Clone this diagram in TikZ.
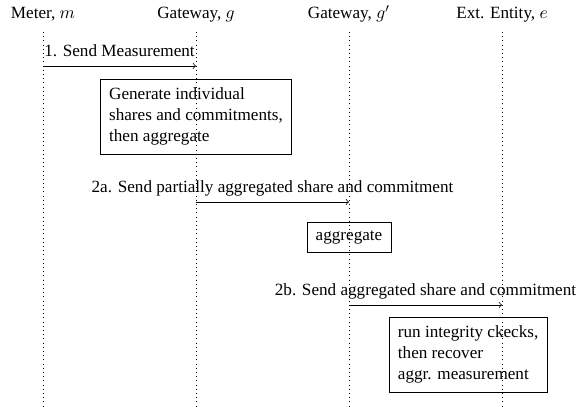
\documentclass[tikz,border=0pt]{standalone}
\usepackage{fontspec}
\setmainfont{Liberation Serif}
\usepackage{tikz}
\usetikzlibrary{positioning, calc}
\tikzstyle{actor} = [anchor=base, inner sep=0pt]
\tikzstyle{lifeline} = [dotted]
\tikzstyle{action} = [rectangle, draw=black, align=left, inner xsep=4.9pt, inner ysep=4.9pt]
\tikzstyle{msg} = [->]
\tikzstyle{msglabel} = [midway, anchor=base, yshift=5.7pt, inner sep=0pt]

\begin{document}
\begin{tikzpicture}[x=0.0201cm, y=-0.0201cm, font=\fontsize{9.8}{12}\selectfont]
    \useasboundingbox (0,0) rectangle (576,407);

    % participants
    \node (m) [actor] at (43,19) {Meter, $m$};
    \node (g) [actor] at (196,19) {Gateway, $g$};
    \node (gp) [actor] at (349,19) {Gateway, $g'$};
    \node (e) [actor] at (502,19) {Ext. Entity, $e$};

    % lifelines
    \coordinate (mtop) at (43,32);   \coordinate (mbot) at (43,407);
    \coordinate (gtop) at (196,32);  \coordinate (gbot) at (196,407);
    \coordinate (gptop) at (349,32); \coordinate (gpbot) at (349,407);
    \coordinate (etop) at (502,32);  \coordinate (ebot) at (502,407);
    \draw [lifeline] (mtop) -- (mbot);
    \draw [lifeline] (gtop) -- (gbot);
    \draw [lifeline] (gptop) -- (gpbot);
    \draw [lifeline] (etop) -- (ebot);

    % step 1
    \coordinate (send1) at (43,66);
    \coordinate (recv1) at (196,66);
    \draw [msg] (send1) -- node[msglabel] {1. Send Measurement} (recv1);
    \node (gen) [action, anchor=north] at (196,79)
        {Generate individual\\shares and commitments,\\then aggregate};

    % step 2a
    \coordinate (send2a) at (196,202);
    \coordinate (recv2a) at (349,202);
    \draw [msg] (send2a) -- node[msglabel] {2a. Send partially aggregated share and commitment} (recv2a);
    \node (agg) [action, anchor=north] at (349,222) {aggregate};

    % step 2b
    \coordinate (send2b) at (349,305);
    \coordinate (recv2b) at (502,305);
    \draw [msg] (send2b) -- node[msglabel] {2b. Send aggregated share and commitment} (recv2b);
    \node (check) [action, anchor=north west] at (389,317)
        {run integrity ckecks,\\then recover\\aggr. measurement};
\end{tikzpicture}
\end{document}
